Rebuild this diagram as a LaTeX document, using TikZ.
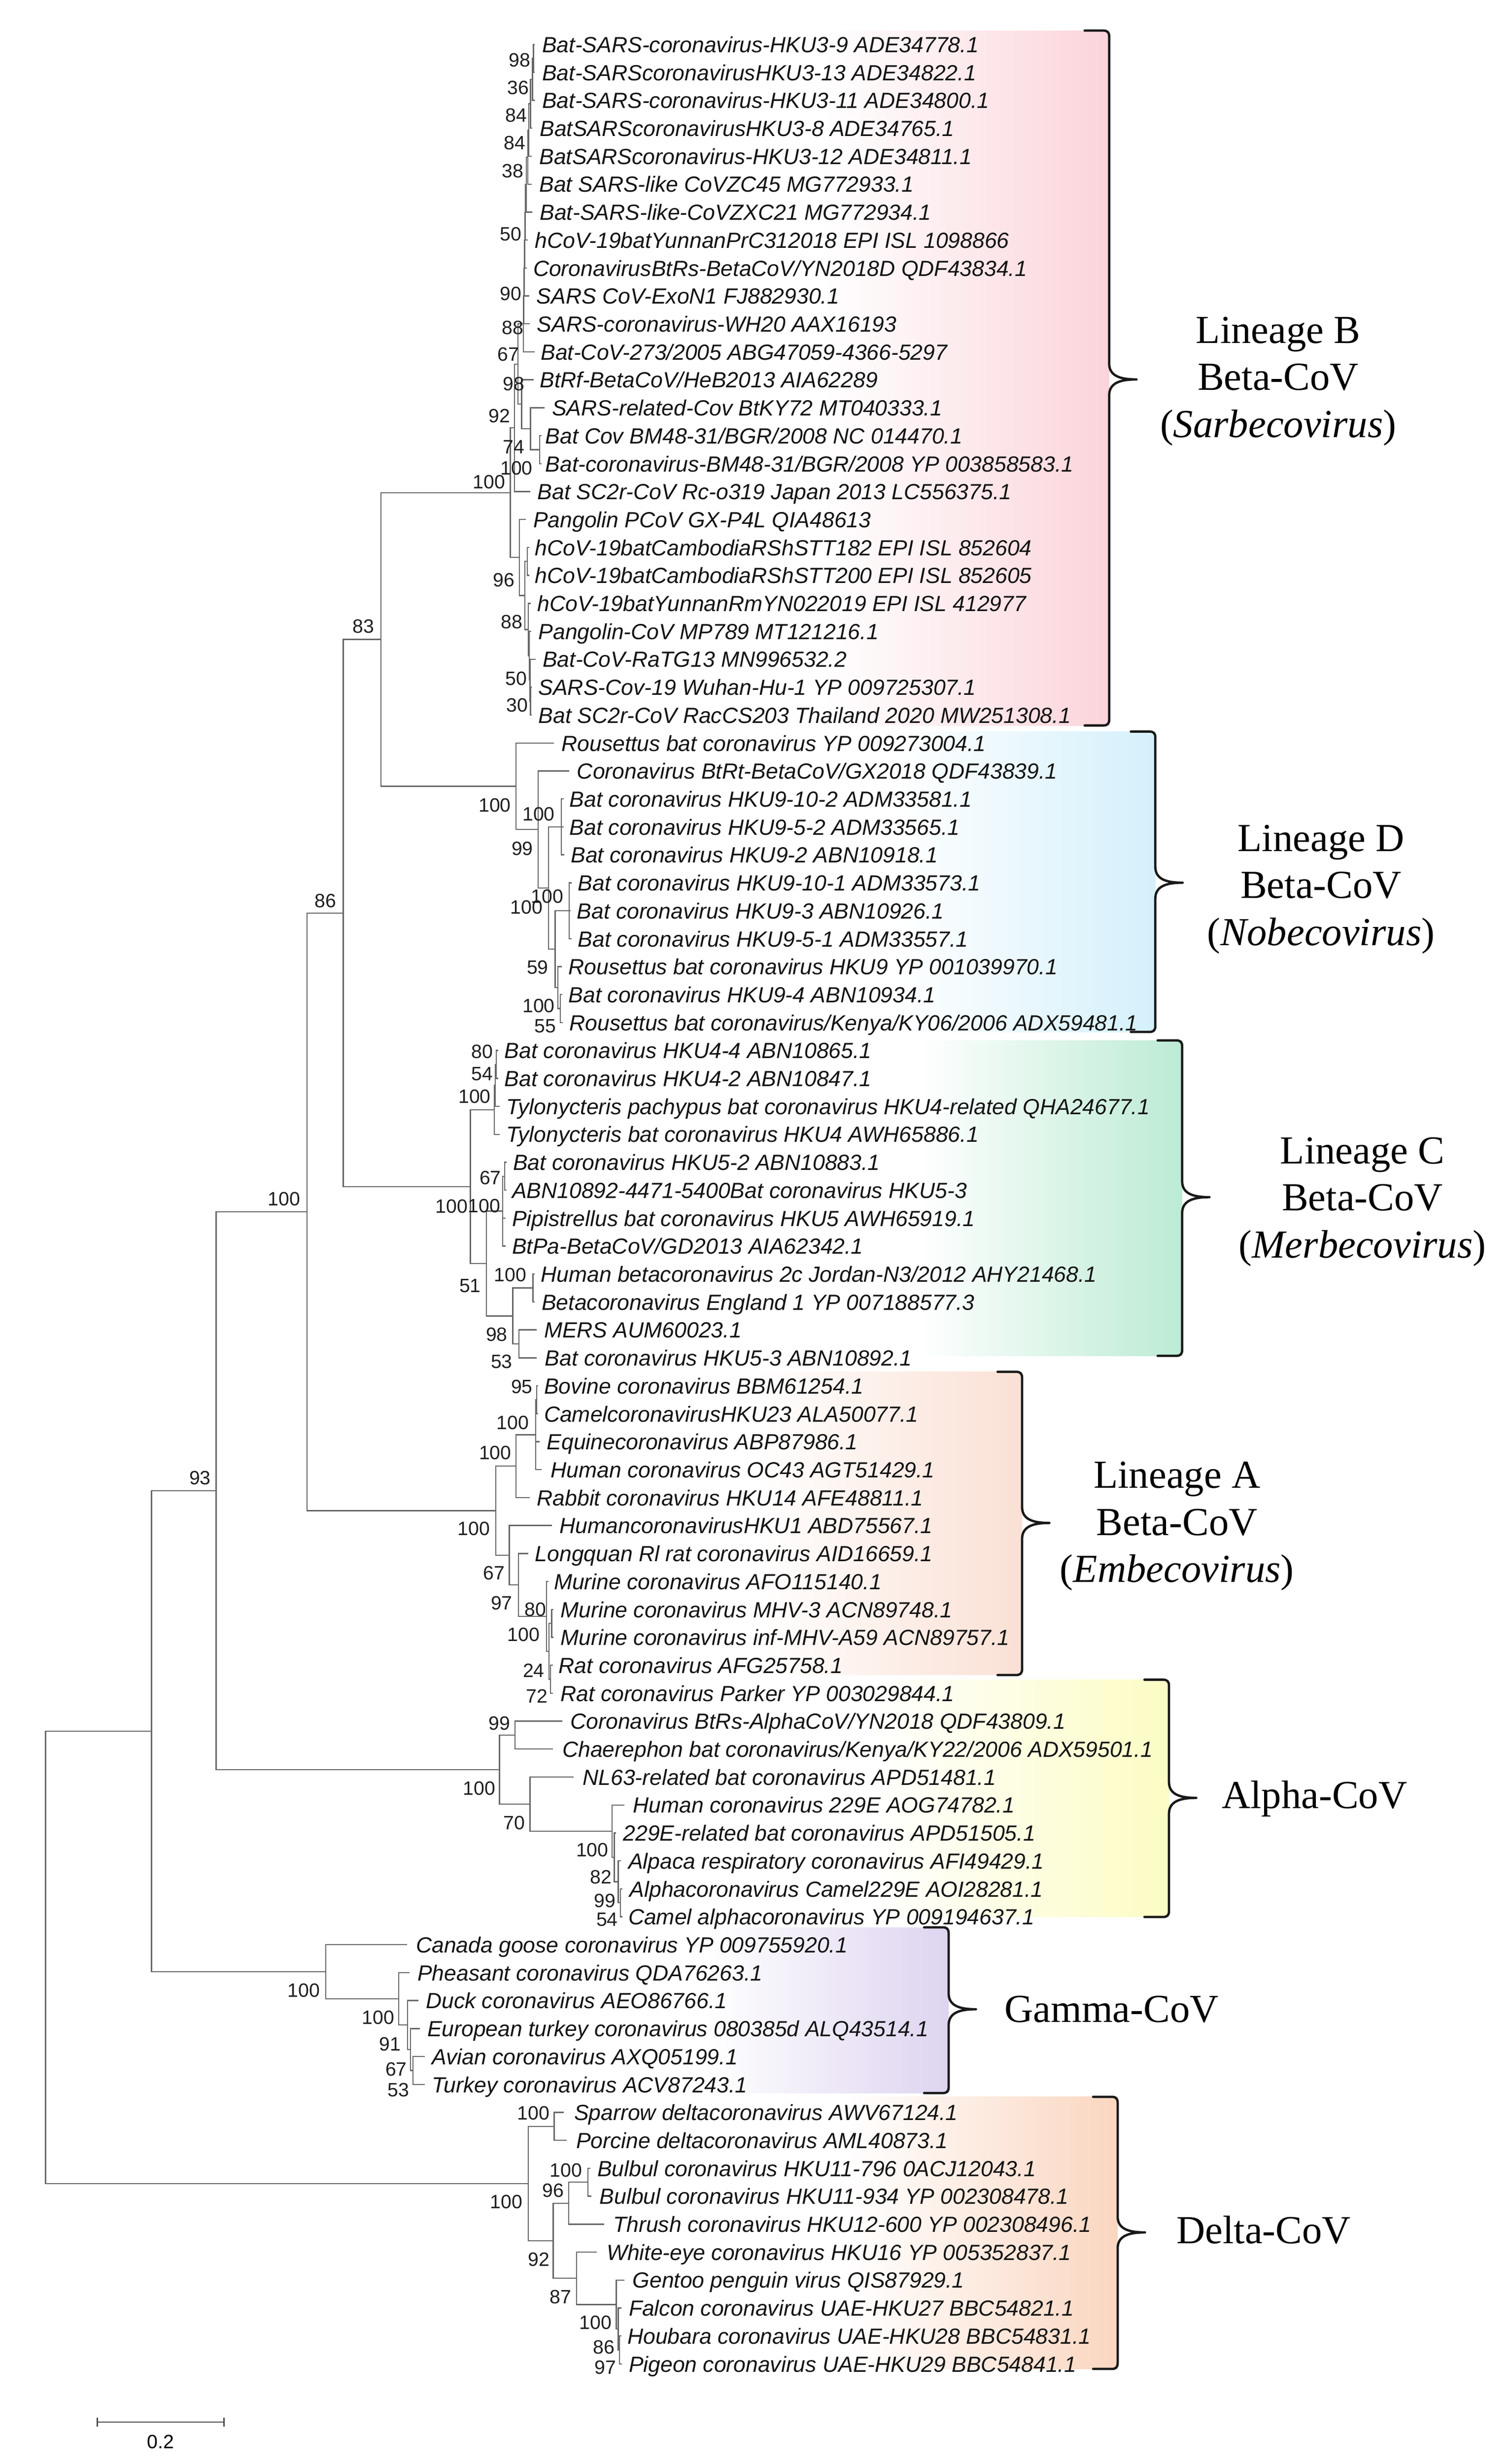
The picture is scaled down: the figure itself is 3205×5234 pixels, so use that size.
\documentclass[tikz,border=0pt]{standalone}
\usepackage{fontspec}
\setmainfont{Liberation Sans}
\newfontfamily\grpserif{Liberation Serif}
\usetikzlibrary{calc}
\definecolor{cB}{RGB}{251,212,218}
\definecolor{cD}{RGB}{212,240,251}
\definecolor{cC}{RGB}{188,235,212}
\definecolor{cA}{RGB}{250,224,212}
\definecolor{cAl}{RGB}{252,252,196}
\definecolor{cG}{RGB}{222,212,240}
\definecolor{cDl}{RGB}{250,214,192}
\newcommand\myleaf[4]{%
  \coordinate (t#1) at (#2,{94.4+(#1-1)*59.36});
  \node[leafl] (l#1) at (#3,{111.4+(#1-1)*59.36}) {#4};}
\newcommand\mynode[4]{%
  \path ($(#3)!0.5!(#4)$) coordinate (tmpc);
  \coordinate (#1) at (tmpc-|#2,0);}
\newcommand\mykids[2]{\foreach \kk in {#2}{\draw[br] (#1) |- (\kk);}}
\newcounter{bsc}
\newcommand\mybs[3]{\stepcounter{bsc}\node[bsl] (bs\thebsc) at (#1,#2) {#3};}
% bracket: x of vertical, top, bottom, tip y
\newcommand\mybrace[4]{%
  \draw[brk] (#1-52,#2) -- (#1-12,#2) .. controls (#1-4,#2) and (#1,#2+4) .. (#1,#2+12)
    -- (#1,#4-34) .. controls (#1,#4-8) and (#1+22,#4) .. (#1+58,#4)
    .. controls (#1+22,#4) and (#1,#4+8) .. (#1,#4+34)
    -- (#1,#3-12) .. controls (#1,#3-4) and (#1-4,#3) .. (#1-12,#3) -- (#1-52,#3);}
\begin{document}
\begin{tikzpicture}[x=0.01cm,y=-0.01cm,
  br/.style={draw=black!60, line width=0.25mm},
  leafl/.style={anchor=base west, inner sep=0pt, font=\fontsize{13.25pt}{15pt}\selectfont\itshape, text=black!92},
  bsl/.style={anchor=east, inner sep=0pt, font=\fontsize{11.66pt}{13pt}\selectfont, text=black!88},
  grp/.style={align=center, inner sep=0pt, font=\grpserif\fontsize{24pt}{28.45pt}\selectfont, text=black},
  brk/.style={line width=0.5mm, draw=black!90, line join=round, line cap=round}]
\useasboundingbox (0,0) rectangle (3205,5234);
\fill[white] (0,0) rectangle (3205,5234);
% ---------- shaded group backgrounds
\shade[left color=white, right color=cB] (1750,65) rectangle (2356,1541);
\shade[left color=white, right color=cD] (1900,1554) rectangle (2454,2192);
\shade[left color=white, right color=cC] (1950,2210) rectangle (2511,2880);
\shade[left color=white, right color=cA] (1600,2914) rectangle (2171,3558);
\shade[left color=white, right color=cAl] (1850,3568) rectangle (2483,4072);
\shade[left color=white, right color=cG] (1500,4094) rectangle (2015,4446);
\shade[left color=white, right color=cDl] (1800,4454) rectangle (2374,5032);
% ---------- leaves
\myleaf{1}{1136}{1151}{Bat-SARS-coronavirus-HKU3-9 ADE34778.1}
\myleaf{2}{1136}{1151}{Bat-SARScoronavirusHKU3-13 ADE34822.1}
\myleaf{3}{1136}{1151}{Bat-SARS-coronavirus-HKU3-11 ADE34800.1}
\myleaf{4}{1131}{1146}{BatSARScoronavirusHKU3-8 ADE34765.1}
\myleaf{5}{1130}{1145}{BatSARScoronavirus-HKU3-12 ADE34811.1}
\myleaf{6}{1130}{1145}{Bat SARS-like CoVZC45 MG772933.1}
\myleaf{7}{1131}{1146}{Bat-SARS-like-CoVZXC21 MG772934.1}
\myleaf{8}{1121}{1136}{hCoV-19batYunnanPrC312018 EPI ISL 1098866}
\myleaf{9}{1119}{1132}{CoronavirusBtRs-BetaCoV/YN2018D QDF43834.1}
\myleaf{10}{1124}{1139}{SARS CoV-ExoN1 FJ882930.1}
\myleaf{11}{1125}{1140}{SARS-coronavirus-WH20 AAX16193}
\myleaf{12}{1136}{1148}{Bat-CoV-273/2005 ABG47059-4366-5297}
\myleaf{13}{1134}{1146}{BtRf-BetaCoV/HeB2013 AIA62289}
\myleaf{14}{1157}{1172}{SARS-related-Cov BtKY72 MT040333.1}
\myleaf{15}{1150}{1158}{Bat Cov BM48-31/BGR/2008 NC 014470.1}
\myleaf{16}{1150}{1158}{Bat-coronavirus-BM48-31/BGR/2008 YP 003858583.1}
\myleaf{17}{1126}{1141}{Bat SC2r-CoV Rc-o319 Japan 2013 LC556375.1}
\myleaf{18}{1117}{1132}{Pangolin PCoV GX-P4L QIA48613}
\myleaf{19}{1124}{1136}{hCoV-19batCambodiaRShSTT182 EPI ISL 852604}
\myleaf{20}{1124}{1136}{hCoV-19batCambodiaRShSTT200 EPI ISL 852605}
\myleaf{21}{1127}{1141}{hCoV-19batYunnanRmYN022019 EPI ISL 412977}
\myleaf{22}{1128}{1143}{Pangolin-CoV MP789 MT121216.1}
\myleaf{23}{1138}{1152}{Bat-CoV-RaTG13 MN996532.2}
\myleaf{24}{1130}{1143}{SARS-Cov-19 Wuhan-Hu-1 YP 009725307.1}
\myleaf{25}{1130}{1143}{Bat SC2r-CoV RacCS203 Thailand 2020 MW251308.1}
\myleaf{26}{1177}{1192}{Rousettus bat coronavirus YP 009273004.1}
\myleaf{27}{1209}{1225}{Coronavirus BtRt-BetaCoV/GX2018 QDF43839.1}
\myleaf{28}{1197}{1209}{Bat coronavirus HKU9-10-2 ADM33581.1}
\myleaf{29}{1197}{1209}{Bat coronavirus HKU9-5-2 ADM33565.1}
\myleaf{30}{1199}{1212}{Bat coronavirus HKU9-2 ABN10918.1}
\myleaf{31}{1214}{1227}{Bat coronavirus HKU9-10-1 ADM33573.1}
\myleaf{32}{1212}{1225}{Bat coronavirus HKU9-3 ABN10926.1}
\myleaf{33}{1214}{1227}{Bat coronavirus HKU9-5-1 ADM33557.1}
\myleaf{34}{1193}{1207}{Rousettus bat coronavirus HKU9 YP 001039970.1}
\myleaf{35}{1194}{1207}{Bat coronavirus HKU9-4 ABN10934.1}
\myleaf{36}{1195}{1209}{Rousettus bat coronavirus/Kenya/KY06/2006 ADX59481.1}
\myleaf{37}{1058}{1071}{Bat coronavirus HKU4-4 ABN10865.1}
\myleaf{38}{1058}{1071}{Bat coronavirus HKU4-2 ABN10847.1}
\myleaf{39}{1061}{1075}{Tylonycteris pachypus bat coronavirus HKU4-related QHA24677.1}
\myleaf{40}{1061}{1075}{Tylonycteris bat coronavirus HKU4 AWH65886.1}
\myleaf{41}{1076}{1089}{Bat coronavirus HKU5-2 ABN10883.1}
\myleaf{42}{1076}{1087}{ABN10892-4471-5400Bat coronavirus HKU5-3}
\myleaf{43}{1074}{1087}{Pipistrellus bat coronavirus HKU5 AWH65919.1}
\myleaf{44}{1074}{1087}{BtPa-BetaCoV/GD2013 AIA62342.1}
\myleaf{45}{1136}{1148}{Human betacoronavirus 2c Jordan-N3/2012 AHY21468.1}
\myleaf{46}{1136}{1150}{Betacoronavirus England 1 YP 007188577.3}
\myleaf{47}{1140}{1155}{MERS AUM60023.1}
\myleaf{48}{1140}{1157}{Bat coronavirus HKU5-3 ABN10892.1}
\myleaf{49}{1143}{1155}{Bovine coronavirus BBM61254.1}
\myleaf{50}{1143}{1155}{CamelcoronavirusHKU23 ALA50077.1}
\myleaf{51}{1146}{1161}{Equinecoronavirus ABP87986.1}
\myleaf{52}{1150}{1169}{Human coronavirus OC43 AGT51429.1}
\myleaf{53}{1125}{1140}{Rabbit coronavirus HKU14 AFE48811.1}
\myleaf{54}{1172}{1188}{HumancoronavirusHKU1 ABD75567.1}
\myleaf{55}{1122}{1136}{Longquan Rl rat coronavirus AID16659.1}
\myleaf{56}{1165}{1176}{Murine coronavirus AFO115140.1}
\myleaf{57}{1176}{1190}{Murine coronavirus MHV-3 ACN89748.1}
\myleaf{58}{1176}{1190}{Murine coronavirus inf-MHV-A59 ACN89757.1}
\myleaf{59}{1174}{1186}{Rat coronavirus AFG25758.1}
\myleaf{60}{1175}{1190}{Rat coronavirus Parker YP 003029844.1}
\myleaf{61}{1194}{1211}{Coronavirus BtRs-AlphaCoV/YN2018 QDF43809.1}
\myleaf{62}{1175}{1194}{Chaerephon bat coronavirus/Kenya/KY22/2006 ADX59501.1}
\myleaf{63}{1218}{1237}{NL63-related bat coronavirus APD51481.1}
\myleaf{64}{1326}{1344}{Human coronavirus 229E AOG74782.1}
\myleaf{65}{1309}{1323}{229E-related bat coronavirus APD51505.1}
\myleaf{66}{1319}{1334}{Alpaca respiratory coronavirus AFI49429.1}
\myleaf{67}{1322}{1337}{Alphacoronavirus Camel229E AOI28281.1}
\myleaf{68}{1322}{1334}{Camel alphacoronavirus YP 009194637.1}
\myleaf{69}{865}{883}{Canada goose coronavirus YP 009755920.1}
\myleaf{70}{870}{886}{Pheasant coronavirus QDA76263.1}
\myleaf{71}{889}{904}{Duck coronavirus AEO86766.1}
\myleaf{72}{892}{907}{European turkey coronavirus 080385d ALQ43514.1}
\myleaf{73}{902}{917}{Avian coronavirus AXQ05199.1}
\myleaf{74}{902}{917}{Turkey coronavirus ACV87243.1}
\myleaf{75}{1198}{1219}{Sparrow deltacoronavirus AWV67124.1}
\myleaf{76}{1204}{1223}{Porcine deltacoronavirus AML40873.1}
\myleaf{77}{1254}{1268}{Bulbul coronavirus HKU11-796 0ACJ12043.1}
\myleaf{78}{1256}{1273}{Bulbul coronavirus HKU11-934 YP 002308478.1}
\myleaf{79}{1283}{1302}{Thrush coronavirus HKU12-600 YP 002308496.1}
\myleaf{80}{1268}{1288}{White-eye coronavirus HKU16 YP 005352837.1}
\myleaf{81}{1326}{1343}{Gentoo penguin virus QIS87929.1}
\myleaf{82}{1320}{1335}{Falcon coronavirus UAE-HKU27 BBC54821.1}
\myleaf{83}{1320}{1332}{Houbara coronavirus UAE-HKU28 BBC54831.1}
\myleaf{84}{1321}{1335}{Pigeon coronavirus UAE-HKU29 BBC54841.1}
% ---------- internal nodes: Lineage B
\mynode{w1}{1133}{t1}{t2}
\mynode{w2}{1131}{w1}{t3}
\mynode{w3}{1127}{w2}{t4}
\mynode{w4}{1123}{w3}{t5}
\mynode{w5}{1121}{w4}{t6}
\mynode{w6}{1118}{w5}{t7}
\mynode{w7}{1116}{w6}{t8}
\mynode{w8}{1115}{w7}{t9}
\mynode{w9}{1114}{w8}{t10}
\mynode{w10}{1113}{w9}{t11}
\mynode{w11}{1112}{w10}{t12}
\mynode{x1516}{1146}{t15}{t16}
\mynode{v}{1127}{t14}{x1516}
\mynode{v2}{1108}{t13}{v}
\mynode{u2}{1100}{w11}{v2}
\mynode{u}{1093}{u2}{t17}
\mynode{p1}{1120}{t19}{t20}
\mynode{q4}{1127}{t24}{t25}
\mynode{q3}{1126}{t23}{q4}
\mynode{q2}{1124}{t22}{q3}
\mynode{q}{1122}{t21}{q2}
\mynode{m}{1115}{p1}{q}
\mynode{lB}{1103}{t18}{m}
\mynode{Broot}{1084}{u}{lB}
% Lineage D
\mynode{d3}{1192}{t28}{t30}
\mynode{d5}{1209}{t31}{t33}
\mynode{d7}{1190}{t35}{t36}
\mynode{d6}{1185}{t34}{d7}
\mynode{d4}{1179}{d5}{d6}
\mynode{d2}{1165}{d3}{d4}
\mynode{d1}{1143}{t27}{d2}
\mynode{Droot}{1096}{t26}{d1}
% Lineage C
\mynode{c1a}{1054}{t37}{t38}
\mynode{c1b}{1052}{c1a}{t39}
\mynode{c1}{1050}{c1b}{t40}
\mynode{c3a}{1072}{t41}{t42}
\mynode{c3}{1068}{c3a}{t44}
\mynode{c4a}{1132}{t45}{t46}
\mynode{c4b}{1102}{t47}{t48}
\mynode{c4}{1089}{c4a}{c4b}
\mynode{c2}{1033}{c3}{c4}
\mynode{Croot}{999}{c1}{c2}
% Lineage A
\mynode{a2a}{1140}{t49}{t50}
\mynode{a2}{1138}{a2a}{t52}
\mynode{a1}{1096}{a2}{t53}
\mynode{a7}{1172}{t57}{t58}
\mynode{a8}{1169}{t59}{t60}
\mynode{a6}{1166}{a7}{a8}
\mynode{a5}{1161}{t56}{a6}
\mynode{a4}{1101}{t55}{a5}
\mynode{a3}{1082}{t54}{a4}
\mynode{Aroot}{1053}{a1}{a3}
% Alpha
\mynode{al1}{1094}{t61}{t62}
\mynode{al6}{1318}{t67}{t68}
\mynode{al5}{1313}{t66}{al6}
\mynode{al4}{1305}{t65}{al5}
\mynode{al3}{1300}{t64}{al4}
\mynode{al2}{1126}{t63}{al3}
\mynode{Alroot}{1061}{al1}{al2}
% Gamma
\mynode{g4}{877}{t73}{t74}
\mynode{g3}{872}{t72}{g4}
\mynode{g2}{866}{t71}{g3}
\mynode{g1}{847}{t70}{g2}
\mynode{Groot}{692}{t69}{g1}
% Delta
\mynode{e1}{1177}{t75}{t76}
\mynode{e4}{1249}{t77}{t78}
\mynode{e3}{1208}{e4}{t79}
\mynode{e8}{1316}{t83}{t84}
\mynode{e7}{1313}{t82}{e8}
\mynode{e6}{1309}{t81}{e7}
\mynode{e5}{1225}{t80}{e6}
\mynode{e2}{1175}{e3}{e5}
\mynode{Dlroot}{1122}{e1}{e2}
% Backbone
\mynode{nE}{809}{Broot}{Droot}
\mynode{nD}{729}{nE}{Croot}
\mynode{nC}{652}{nD}{Aroot}
\mynode{nB}{459}{nC}{Alroot}
\mynode{nA}{322}{nB}{Groot}
\mynode{root}{97}{nA}{Dlroot}
% ---------- branches
\mykids{w1}{t1,t2}
\mykids{w2}{w1,t3}
\mykids{w3}{w2,t4}
\mykids{w4}{w3,t5}
\mykids{w5}{w4,t6}
\mykids{w6}{w5,t7}
\mykids{w7}{w6,t8}
\mykids{w8}{w7,t9}
\mykids{w9}{w8,t10}
\mykids{w10}{w9,t11}
\mykids{w11}{w10,t12}
\mykids{x1516}{t15,t16}
\mykids{v}{t14,x1516}
\mykids{v2}{t13,v}
\mykids{u2}{w11,v2}
\mykids{u}{u2,t17}
\mykids{p1}{t19,t20}
\mykids{q4}{t24,t25}
\mykids{q3}{t23,q4}
\mykids{q2}{t22,q3}
\mykids{q}{t21,q2}
\mykids{m}{p1,q}
\mykids{lB}{t18,m}
\mykids{Broot}{u,lB}
\mykids{d3}{t28,t29,t30}
\mykids{d5}{t31,t32,t33}
\mykids{d7}{t35,t36}
\mykids{d6}{t34,d7}
\mykids{d4}{d5,d6}
\mykids{d2}{d3,d4}
\mykids{d1}{t27,d2}
\mykids{Droot}{t26,d1}
\mykids{c1a}{t37,t38}
\mykids{c1b}{c1a,t39}
\mykids{c1}{c1b,t40}
\mykids{c3a}{t41,t42}
\mykids{c3}{c3a,t43,t44}
\mykids{c4a}{t45,t46}
\mykids{c4b}{t47,t48}
\mykids{c4}{c4a,c4b}
\mykids{c2}{c3,c4}
\mykids{Croot}{c1,c2}
\mykids{a2a}{t49,t50}
\mykids{a2}{a2a,t51,t52}
\mykids{a1}{a2,t53}
\mykids{a7}{t57,t58}
\mykids{a8}{t59,t60}
\mykids{a6}{a7,a8}
\mykids{a5}{t56,a6}
\mykids{a4}{t55,a5}
\mykids{a3}{t54,a4}
\mykids{Aroot}{a1,a3}
\mykids{al1}{t61,t62}
\mykids{al6}{t67,t68}
\mykids{al5}{t66,al6}
\mykids{al4}{t65,al5}
\mykids{al3}{t64,al4}
\mykids{al2}{t63,al3}
\mykids{Alroot}{al1,al2}
\mykids{g4}{t73,t74}
\mykids{g3}{t72,g4}
\mykids{g2}{t71,g3}
\mykids{g1}{t70,g2}
\mykids{Groot}{t69,g1}
\mykids{e1}{t75,t76}
\mykids{e4}{t77,t78}
\mykids{e3}{e4,t79}
\mykids{e8}{t83,t84}
\mykids{e7}{t82,e8}
\mykids{e6}{t81,e7}
\mykids{e5}{t80,e6}
\mykids{e2}{e3,e5}
\mykids{Dlroot}{e1,e2}
\mykids{nE}{Broot,Droot}
\mykids{nD}{nE,Croot}
\mykids{nC}{nD,Aroot}
\mykids{nB}{nC,Alroot}
\mykids{nA}{nB,Groot}
\mykids{root}{nA,Dlroot}
% ---------- bootstrap values
\mybs{1127}{127.6}{98}
\mybs{1124}{186}{36}
\mybs{1120}{245}{84}
\mybs{1117}{303.6}{84}
\mybs{1112.6}{363}{38}
\mybs{1108}{497}{50}
\mybs{1108}{623.5}{90}
\mybs{1112.6}{696}{88}
\mybs{1103}{752.6}{67}
\mybs{1114.5}{815}{98}
\mybs{1084}{884}{92}
\mybs{1114.5}{949}{74}
\mybs{1132}{994}{100}
\mybs{1074}{1024}{100}
\mybs{1093.5}{1232}{96}
\mybs{1110.7}{1321.5}{88}
\mybs{1120}{1441}{50}
\mybs{1122}{1498}{30}
\mybs{795}{1331}{83}
\mybs{715}{1914}{86}
\mybs{638}{2547}{100}
\mybs{448.5}{3139.5}{93}
\mybs{1086}{1710}{100}
\mybs{1179}{1729}{100}
\mybs{1133}{1803}{99}
\mybs{1197}{1904}{100}
\mybs{1153}{1927}{100}
\mybs{1165.5}{2055}{59}
\mybs{1179}{2137}{100}
\mybs{1182}{2179.5}{55}
\mybs{1048}{2234}{80}
\mybs{1048}{2281}{54}
\mybs{1043}{2329}{100}
\mybs{1065}{2501.5}{67}
\mybs{994}{2563}{100}
\mybs{1063}{2561}{100}
\mybs{1022}{2731}{51}
\mybs{1119}{2708}{100}
\mybs{1078.6}{2834.6}{98}
\mybs{1089}{2892}{53}
\mybs{1132}{2946}{95}
\mybs{1124}{3021.7}{100}
\mybs{1086.6}{3086}{100}
\mybs{1041}{3247}{100}
\mybs{1072.5}{3341}{67}
\mybs{1089}{3405}{97}
\mybs{1161}{3419}{80}
\mybs{1147}{3472}{100}
\mybs{1157}{3548}{24}
\mybs{1164}{3603}{72}
\mybs{1084}{3660.5}{99}
\mybs{1053}{3798.5}{100}
\mybs{1116}{3872.5}{70}
\mybs{1293}{3929.6}{100}
\mybs{1300}{3987}{82}
\mybs{1308}{4037}{99}
\mybs{1313}{4077.6}{54}
\mybs{680}{4228}{100}
\mybs{838}{4286}{100}
\mybs{852}{4341.6}{91}
\mybs{865}{4395}{67}
\mybs{870}{4439}{53}
\mybs{1168}{4489}{100}
\mybs{1237}{4610}{100}
\mybs{1198.5}{4653.5}{96}
\mybs{1110.5}{4677}{100}
\mybs{1168}{4800}{92}
\mybs{1214}{4879}{87}
\mybs{1300}{4934}{100}
\mybs{1306.6}{4986}{86}
\mybs{1309.5}{5029}{97}
% ---------- brackets
\mybrace{2356}{65}{1541}{806}
\mybrace{2454}{1554}{2192}{1875}
\mybrace{2511}{2210}{2880}{2543}
\mybrace{2171}{2914}{3558}{3235}
\mybrace{2483}{3568}{4072}{3819}
\mybrace{2015}{4094}{4446}{4268}
\mybrace{2374}{4454}{5032}{4742}
% ---------- group labels
\node[grp] (gB) at (2715,810) {Lineage B\\Beta-CoV\\(\textit{Sarbecovirus})};
\node[grp] (gD) at (2806,1889) {Lineage D\\Beta-CoV\\(\textit{Nobecovirus})};
\node[grp] (gC) at (2894,2553) {Lineage C\\Beta-CoV\\(\textit{Merbecovirus})};
\node[grp] (gA) at (2500,3242) {Lineage A\\Beta-CoV\\(\textit{Embecovirus})};
\node[grp] (gAl) at (2792,3821) {Alpha-CoV};
\node[grp] (gG) at (2361,4268) {Gamma-CoV};
\node[grp] (gDl) at (2684,4737) {Delta-CoV};
% ---------- scale bar
\coordinate (sb1) at (207,5145);
\coordinate (sb2) at (476,5145);
\draw[draw=black!70, line width=0.3mm] (sb1) -- (sb2);
\draw[draw=black!70, line width=0.3mm] ([yshift=0.09cm]sb1) -- ([yshift=-0.09cm]sb1);
\draw[draw=black!70, line width=0.3mm] ([yshift=0.09cm]sb2) -- ([yshift=-0.09cm]sb2);
\node[inner sep=0pt, font=\fontsize{11.66pt}{13pt}\selectfont] (sbl) at (341,5187) {0.2};
\end{tikzpicture}
\end{document}
